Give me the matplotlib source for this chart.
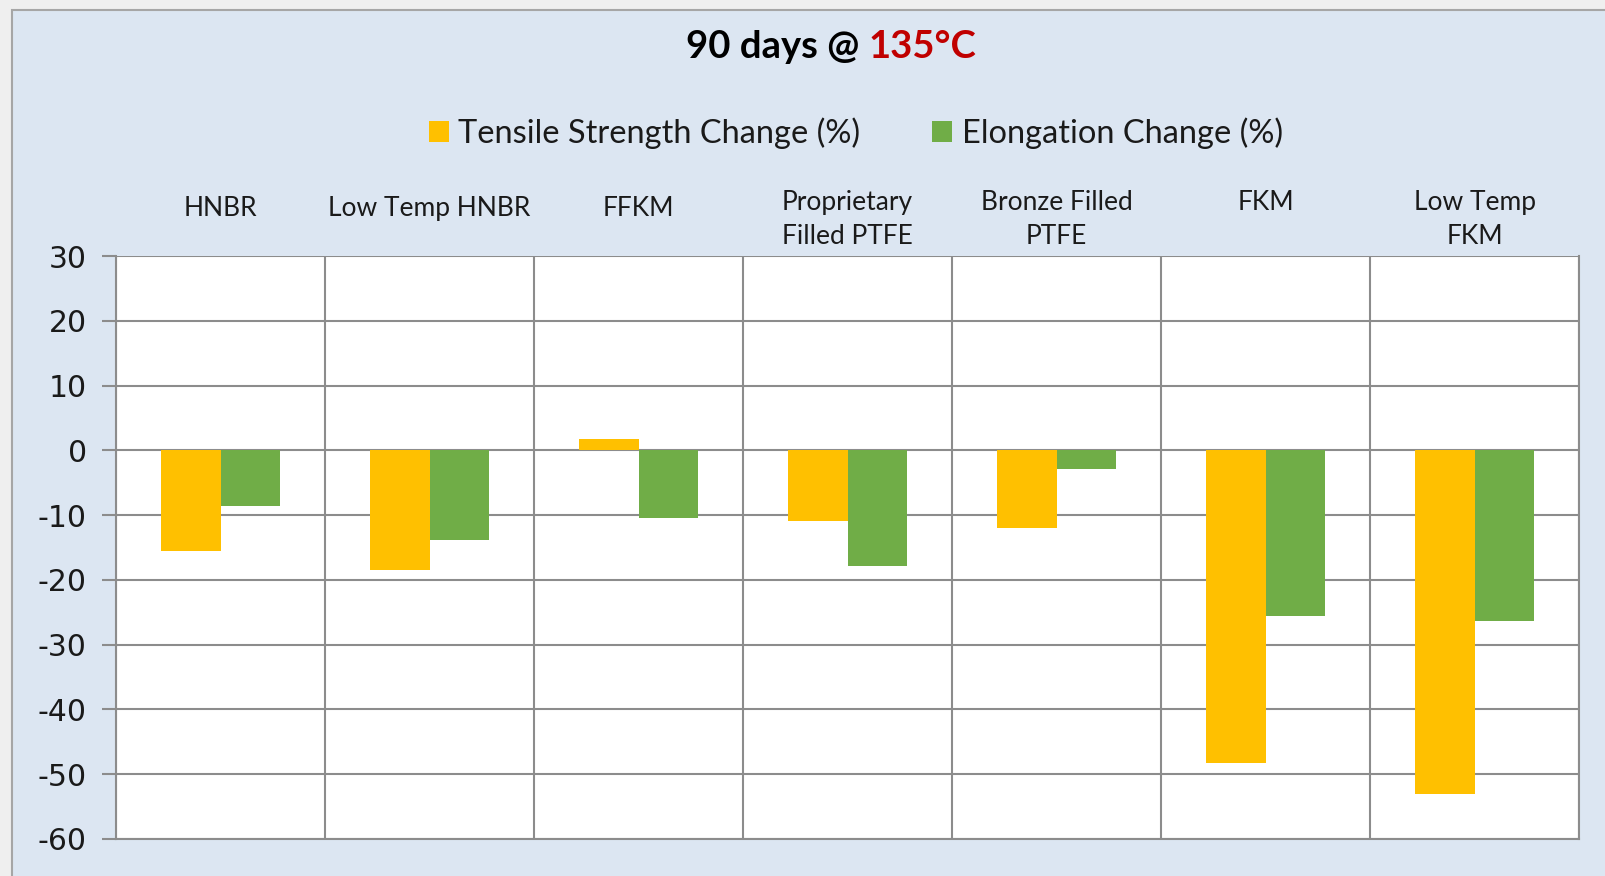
import matplotlib
matplotlib.use("Agg")
import matplotlib.pyplot as plt
from matplotlib.patches import Rectangle, Patch
import numpy as np

categories = ["HNBR", "Low Temp HNBR", "FFKM", "Proprietary\nFilled PTFE",
              "Bronze Filled\nPTFE", "FKM\n", "Low Temp\nFKM"]
tensile = [-15.6, -18.5, 1.7, -10.9, -12.0, -48.2, -53.0]
elongation = [-8.6, -13.9, -10.4, -17.9, -2.9, -25.6, -26.4]
series_names = ["Tensile Strength Change (%)", "Elongation Change (%)"]
yticks = [30, 20, 10, 0, -10, -20, -30, -40, -50, -60]

ORANGE = "#FFC000"
GREEN = "#70AD47"
GRID = "#8C8C8C"
BG = "#DCE6F2"
LABEL_FONT = "Lato"

W, H = 1605, 876
fig = plt.figure(figsize=(W / 100, H / 100), dpi=100)
fig.patch.set_facecolor("#EFEFEF")

# chart area background
fig.patches.append(Rectangle((12 / W, -0.01), 1.0, (H - 10) / H + 0.01, transform=fig.transFigure,
                             facecolor=BG, edgecolor="#A6A6A6", linewidth=1.5, zorder=-10))

ax = fig.add_axes([116 / W, 37 / H, (1579 - 116) / W, (839 - 256) / H])
ax.set_facecolor("white")

x = np.arange(len(categories))
bw = 0.286
ax.bar(x - bw / 2, tensile, width=bw, color=ORANGE, zorder=3, label=series_names[0])
ax.bar(x + bw / 2, elongation, width=bw, color=GREEN, zorder=3, label=series_names[1])

ax.set_xlim(-0.5, len(categories) - 0.5)
ax.set_ylim(-60, 30)
ax.set_yticks(yticks)
ax.set_yticklabels([str(v) for v in yticks], fontsize=21.5, color="#1a1a1a",
                   family="DejaVu Sans")
ax.tick_params(axis="y", length=10, width=1.5, color=GRID, pad=11)
ax.set_xticks(np.arange(len(categories) + 1) - 0.5)
ax.set_xticklabels([])
ax.tick_params(axis="x", length=0)
ax.grid(True, color=GRID, linewidth=1.5, zorder=1)
ax.set_axisbelow(True)
for s in ax.spines.values():
    s.set_color(GRID)
    s.set_linewidth(1.5)
ax.spines["top"].set_visible(False)

# category labels above plot
trans = ax.get_xaxis_transform()
for i, lab in enumerate(categories):
    multi = "\n" in lab
    ax.text(i, 1.0 + (0.063 if multi else 0.082),
            lab, transform=trans, ha="center", va="center", fontsize=19,
            family=LABEL_FONT, color="#1a1a1a", linespacing=1.45)

# title
fig.canvas.draw()
r = fig.canvas.get_renderer()
ty = 1 - 47 / H
t1 = fig.text(0, ty, "90 days @ ", fontsize=27.5, fontweight="bold", family=LABEL_FONT,
              color="black", va="center", ha="left")
t2 = fig.text(0, ty, "135°C", fontsize=27.5, fontweight="bold", family=LABEL_FONT,
              color="#C00000", va="center", ha="left")
w1 = t1.get_window_extent(r).width
w2 = t2.get_window_extent(r).width
cx = (684 + 978) / 2
x0 = cx - (w1 + w2) / 2
t1.set_x(x0 / W)
t2.set_x((x0 + w1) / W)

# legend
handles = [Patch(facecolor=ORANGE), Patch(facecolor=GREEN)]
fig.legend(handles, series_names, loc="center", bbox_to_anchor=((428 + 1284) / 2 / W, 1 - 133 / H),
           ncol=2, frameon=False, prop={"family": LABEL_FONT, "size": 23.5},
           handlelength=0.6, handleheight=0.6, handletextpad=0.3, columnspacing=2.2,
           labelcolor="#1a1a1a")

fig.savefig("out.png", dpi=100, facecolor=fig.get_facecolor())
